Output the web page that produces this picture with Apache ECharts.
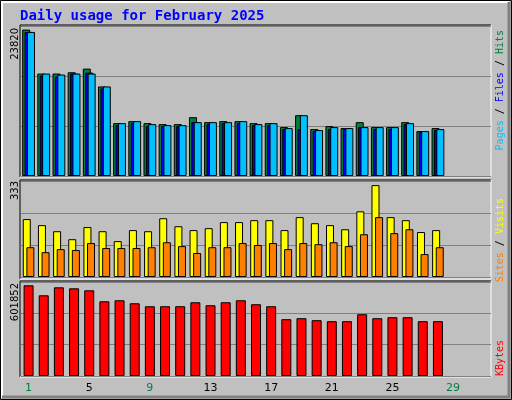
<!DOCTYPE html>
<html>
<head>
<meta charset="utf-8">
<script src="https://cdn.jsdelivr.net/npm/echarts@6/dist/echarts.min.js"></script>
<style>html,body{margin:0;padding:0;background:#c0c0c0}#chart{width:512px;height:400px}</style>
</head>
<body>
<div id="chart"></div>
<script>
// dias del mes
var days = [];
for (var d = 1; d <= 31; d++) days.push(String(d));
var weekend = [1, 2, 8, 9, 15, 16, 22, 23, 29, 30];

// datos
var hits = [23820,16661,16661,16876,17467,14565,8599,8922,8599,8438,8438,9566,8760,8922,8922,8599,8599,7954,9889,7632,8115,7793,8760,7954,7954,8760,7309,7793];
var files = [23433,16339,16177,16661,16822,14242,8277,8599,8115,8115,8115,8760,8438,8599,8599,8277,8277,7632,7632,7309,7632,7632,7954,7632,7632,8438,7148,7471];
var pages = [23433,16661,16500,16661,16661,14565,8599,8922,8438,8277,8277,8760,8760,8760,8922,8438,8599,7793,9889,7471,7954,7793,7954,7954,7954,8599,7309,7632];
var visits = [210,188,166,137,181,166,130,170,166,213,184,170,177,199,199,206,206,170,217,195,188,173,238,333,217,206,163,170];
var sites = [108,90,101,98,123,105,105,105,108,126,112,87,108,108,123,116,123,101,123,119,126,112,155,217,159,173,83,108];
var kbytes = [601852,535700,588600,582000,568800,496000,502600,482800,463000,463000,463000,489400,469600,489400,502600,476200,463000,377000,383600,370400,363800,363800,410000,383600,390200,390200,363800,363800];

var maxTop = 24400, maxMid = 348, maxBot = 623900;

var chartDom = document.getElementById('chart');
var myChart = echarts.init(chartDom);

function yAxis(idx, max) {
	return {gridIndex: idx, min: 0, max: max, interval: max / 3,
		axisLabel: {show: false}, axisLine: {show: false}, axisTick: {show: false},
		splitLine: {lineStyle: {color: '#808080', width: 1}}};
}
function xAxis(idx, labels) {
	return {gridIndex: idx, type: 'category', data: days, boundaryGap: true,
		axisLine: {show: false}, axisTick: {show: false},
		axisLabel: labels ? {show: true, margin: 7, fontFamily: 'DejaVu Sans', fontSize: 11,
			formatter: function (v) { return (weekend.indexOf(+v) >= 0 ? '{g|' : '{k|') + v + '}'; },
			rich: {g: {color: '#008040', fontSize: 11}, k: {color: '#000', fontSize: 11}}} : {show: false}};
}
function bar(name, xi, data, color, w, gap) {
	return {name: name, type: 'bar', xAxisIndex: xi, yAxisIndex: xi, data: data, barWidth: w, barGap: gap,
		itemStyle: {color: color, borderColor: '#000', borderWidth: 1}, animation: false};
}
function rot(x, y, text, align, font, rich) {
	return {type: 'text', x: x, y: y, rotation: Math.PI / 2,
		style: {text: text, align: align, verticalAlign: 'middle', font: font, rich: rich}};
}
function frame(x1, y1, x2, y2) {
	return [
		{type: 'polyline', shape: {points: [[x1, y2], [x1, y1], [x2, y1]]}, style: {stroke: '#000', lineWidth: 1, fill: null}},
		{type: 'polyline', shape: {points: [[x2, y1], [x2, y2], [x1, y2]]}, style: {stroke: '#fff', lineWidth: 1, fill: null}}
	];
}

var graphics = [
	{type: 'rect', shape: {x: 0.5, y: 0.5, width: 511, height: 399}, style: {fill: null, stroke: '#000', lineWidth: 1}},
	{type: 'polyline', shape: {points: [[2, 398], [2, 2], [509, 2]]}, style: {stroke: '#fff', lineWidth: 2, fill: null}},
	{type: 'polyline', shape: {points: [[509, 2], [509, 397], [2, 397]]}, style: {stroke: '#808080', lineWidth: 3, fill: null}},
	{type: 'text', x: 20, y: 16, style: {text: 'Daily usage for February 2025', fill: '#0000ff', font: 'bold 14px "DejaVu Sans Mono"', verticalAlign: 'middle'}},
	rot(15, 28, '23820', 'right', '10px "DejaVu Sans"'),
	rot(15, 181, '333', 'right', '10px "DejaVu Sans"'),
	rot(15, 283, '601852', 'right', '10px "DejaVu Sans"'),
	rot(500, 30, '{p|Pages}{s| / }{f|Files}{s| / }{h|Hits}', 'right', '10px "DejaVu Sans Mono"',
		{p: {fill: '#00c0ff'}, f: {fill: '#0000ff'}, h: {fill: '#008040'}, s: {fill: '#000'}}),
	rot(500, 198, '{o|Sites}{s| / }{y|Visits}', 'right', '10px "DejaVu Sans Mono"',
		{o: {fill: '#ff8000'}, y: {fill: '#ffff00'}, s: {fill: '#000'}}),
	rot(500, 376, '{r|KBytes}', 'left', '10px "DejaVu Sans Mono"', {r: {fill: '#ff0000'}})
].concat(frame(20, 25, 491, 177), frame(20, 180, 491, 279), frame(20, 281, 491, 377));

var option = {
	backgroundColor: '#c0c0c0',
	animation: false,
	grid: [
		{left: 21, right: 21, top: 26, height: 150},
		{left: 21, right: 21, top: 181, height: 96},
		{left: 21, right: 21, top: 282, height: 94}
	],
	xAxis: [xAxis(0, false), xAxis(1, false), xAxis(2, true)],
	yAxis: [yAxis(0, maxTop), yAxis(1, maxMid), yAxis(2, maxBot)],
	series: [
		bar('Hits', 0, hits, '#008040', 8, '-70%'),
		bar('Files', 0, files, '#0000ff', 8, '-70%'),
		bar('Pages', 0, pages, '#00c0ff', 8, '-70%'),
		bar('Visits', 1, visits, '#ffff00', 8, '-55%'),
		bar('Sites', 1, sites, '#ff8000', 8, '-55%'),
		bar('KBytes', 2, kbytes, '#ff0000', 10, '0%')
	],
	graphic: graphics
};
myChart.setOption(option);
</script>
</body>
</html>
